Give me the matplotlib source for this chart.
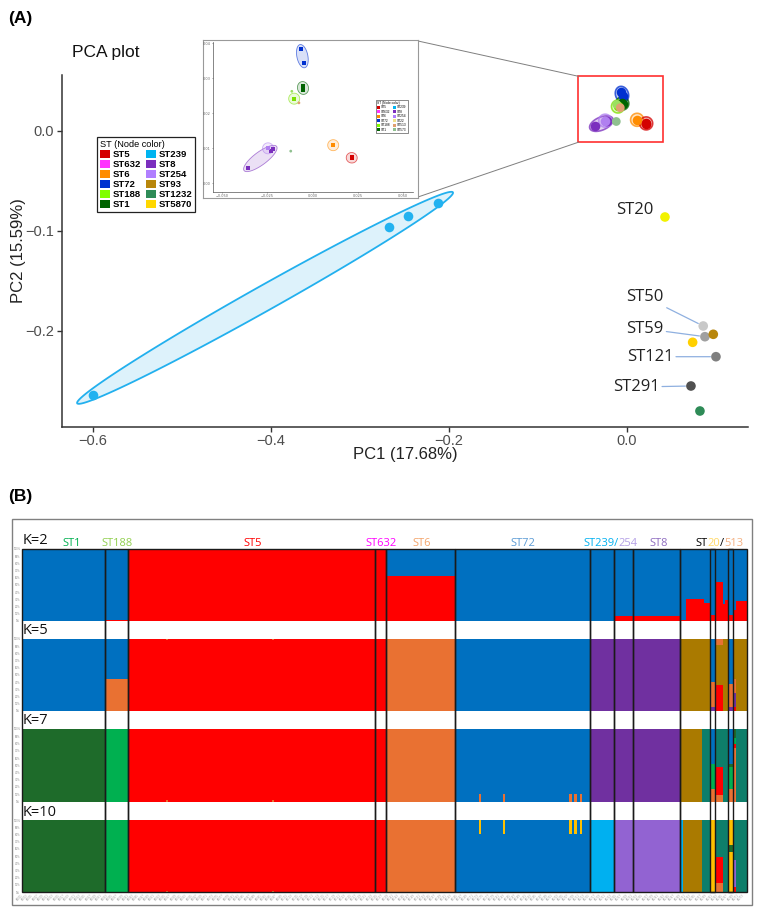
import numpy as np
import matplotlib
matplotlib.use("Agg")
import matplotlib.pyplot as plt
from matplotlib.patches import Rectangle, Polygon, Patch
from matplotlib.lines import Line2D

# ======================= DATA =======================
# ---- Panel A: PCA ----
st239_x = [-0.600, -0.267, -0.246, -0.212]
st239_y = [-0.264, -0.0963, -0.0853, -0.0723]

# main cluster (also shown in the inset)
clu_names  = ["ST72", "ST1", "ST188", "ST8", "ST254", "ST6", "ST5"]
clu_colors = ["#0030D0", "#006400", "#7CE000", "#7B2FBE", "#B080F0", "#FF8C00", "#D40000"]
clu_x = [[-0.0064, -0.0048], [-0.0055, -0.0050], [-0.0101], [-0.0230, -0.0220, -0.0355],
         [-0.0245], [0.0114], [0.0215, 0.0217]]
clu_y = [[0.0384, 0.0343], [0.0278, 0.0267], [0.0242], [0.0093, 0.0097, 0.0045],
         [0.0100], [0.0109], [0.0071, 0.0075]]
# single small points without ellipse
small_names  = ["ST188b", "ST513", "ST573"]
small_colors = ["#9BE060", "#E0A070", "#8FC08F"]
small_x = [-0.0114, -0.0075, -0.0120]
small_y = [0.0263, 0.0230, 0.0092]

# outlying STs
out_labels = ["ST20", "ST50", "ST59", "", "", "ST121", "ST291", ""]
out_colors = ["#F2F200", "#C8C8C8", "#A0A0A0", "#B8860B", "#FFD000", "#7F7F7F", "#505050", "#2E8B57"]
out_x = [0.0427, 0.0857, 0.0876, 0.0970, 0.0738, 0.1000, 0.0719, 0.0820]
out_y = [-0.0863, -0.1953, -0.2060, -0.2036, -0.2116, -0.2260, -0.2553, -0.2803]

leg_labels = ["ST5", "ST632", "ST6", "ST72", "ST188", "ST1",
              "ST239", "ST8", "ST254", "ST93", "ST1232", "ST5870"]
leg_colors = ["#D40000", "#FF33FF", "#FF8C00", "#0030D0", "#80FF00", "#006400",
              "#00B4F0", "#7B2FBE", "#B07FFF", "#B8860B", "#2E8B57", "#FFD700"]
inset_leg_labels = ["ST5", "ST632", "ST6", "ST72", "ST188", "ST1",
                    "ST239", "ST8", "ST254", "ST22", "ST513", "ST573"]
inset_leg_colors = ["#D40000", "#FF33FF", "#FF8C00", "#0030D0", "#80FF00", "#006400",
                    "#00B4F0", "#7B2FBE", "#B07FFF", "#F0E08A", "#E0A070", "#8FC08F"]

x_ticks = [-0.6, -0.4, -0.2, 0.0]
y_ticks = [-0.2, -0.1, 0.0]
ins_x_ticks = [-0.050, -0.025, 0.000, 0.025, 0.050]
ins_y_ticks = [0.00, 0.01, 0.02, 0.03, 0.04]

# ---- Panel B: STRUCTURE ----
groups      = ["ST1", "ST188", "ST5", "ST632", "ST6", "ST72", "ST239", "ST254", "ST8", "Other"]
group_sizes = [31, 9, 93, 4, 26, 51, 9, 7, 18, 25]
sub_boxes   = [("Other", 11, 2), ("Other", 18, 2)]   # ST20 and ST513 isolates

cl_colors = {"blue": "#0070C0", "red": "#FF0000", "orange": "#E97132", "purple": "#7030A0",
             "brown": "#AA7A00", "dkgreen": "#1E6B2A", "green": "#00B050", "teal": "#0E7E6A",
             "cyan": "#00B0F0", "lavender": "#9263D2", "yellow": "#FFC000"}

K2_groups = {"ST1": [("blue", 1.0)], "ST188": [("red", 0.01), ("blue", 0.99)],
             "ST5": [("red", 1.0)], "ST632": [("red", 1.0)],
             "ST6": [("red", 0.62), ("blue", 0.38)], "ST72": [("blue", 1.0)],
             "ST239": [("blue", 1.0)], "ST254": [("red", 0.07), ("blue", 0.93)],
             "ST8": [("red", 0.07), ("blue", 0.93)]}
K2_other_red = [0.02, 0.02, 0.30, 0.30, 0.30, 0.30, 0.30, 0.30, 0.30, 0.25, 0.25, 0.09, 0.09,
                0.54, 0.54, 0.54, 0.23, 0.29, 0.09, 0.09, 0.15, 0.28, 0.28, 0.28, 0.28]

K5_groups = {"ST1": [("blue", 1.0)], "ST188": [("orange", 0.45), ("blue", 0.55)],
             "ST5": [("red", 1.0)], "ST632": [("red", 1.0)], "ST6": [("orange", 1.0)],
             "ST72": [("blue", 1.0)], "ST239": [("purple", 1.0)],
             "ST254": [("purple", 1.0)], "ST8": [("purple", 1.0)]}
K5_other = ([[("brown", 1.0)]] * 11
            + [[("purple", 0.06), ("orange", 0.34), ("blue", 0.60)]] * 2
            + [[("red", 0.36), ("brown", 0.56), ("orange", 0.08)]] * 3
            + [[("brown", 1.0)]] * 2
            + [[("purple", 0.06), ("orange", 0.32), ("blue", 0.62)]] * 2
            + [[("red", 0.06), ("purple", 0.19), ("orange", 0.20), ("brown", 0.55)]]
            + [[("brown", 1.0)]] * 4)

K7_groups = {"ST1": [("dkgreen", 1.0)], "ST188": [("green", 1.0)],
             "ST5": [("red", 1.0)], "ST632": [("red", 1.0)], "ST6": [("orange", 1.0)],
             "ST72": [("blue", 1.0)], "ST239": [("purple", 1.0)],
             "ST254": [("purple", 1.0)], "ST8": [("purple", 1.0)]}
K7_other = ([[("brown", 1.0)]] * 8
            + [[("teal", 1.0)]] * 3
            + [[("orange", 0.17), ("green", 0.35), ("blue", 0.48)]] * 2
            + [[("orange", 0.09), ("red", 0.39), ("teal", 0.52)]] * 3
            + [[("teal", 1.0)]] * 2
            + [[("orange", 0.17), ("green", 0.30), ("dkgreen", 0.05), ("blue", 0.48)]] * 2
            + [[("orange", 0.74), ("red", 0.06), ("green", 0.08), ("dkgreen", 0.12)]]
            + [[("teal", 1.0)]] * 4)

K10_groups = {"ST1": [("dkgreen", 1.0)], "ST188": [("green", 1.0)],
              "ST5": [("red", 1.0)], "ST632": [("red", 1.0)], "ST6": [("orange", 1.0)],
              "ST72": [("blue", 1.0)], "ST239": [("cyan", 1.0)],
              "ST254": [("lavender", 1.0)], "ST8": [("lavender", 1.0)]}
K10_other = ([[("cyan", 1.0)]]
             + [[("brown", 1.0)]] * 7
             + [[("teal", 1.0)]] * 3
             + [[("yellow", 1.0)]] * 2
             + [[("orange", 0.12), ("red", 0.37), ("teal", 0.51)]] * 3
             + [[("teal", 1.0)]] * 2
             + [[("yellow", 0.55), ("dkgreen", 0.10), ("yellow", 0.35)]] * 2
             + [[("red", 0.07), ("lavender", 0.38), ("teal", 0.55)]]
             + [[("teal", 1.0)]] * 4)

# individual admixed samples: (group, index in group) -> stack
K5_special  = {("ST5", 14): [("red", 0.98), ("orange", 0.02)],
               ("ST5", 54): [("red", 0.98), ("orange", 0.02)]}
K7_special  = {("ST5", 14): [("orange", 0.02), ("red", 0.98)],
               ("ST5", 54): [("orange", 0.02), ("red", 0.98)]}
K10_special = {("ST5", 14): [("orange", 0.02), ("red", 0.98)],
               ("ST5", 54): [("orange", 0.02), ("red", 0.98)]}
st72_admixed = [9, 18, 43, 45, 47]
for i in st72_admixed:
    K7_special[("ST72", i)] = [("orange", 0.10), ("blue", 0.90)]
    K10_special[("ST72", i)] = [("blue", 0.81), ("yellow", 0.19)]

header_single = [("ST1", "#00B050", 71.7), ("ST188", "#92D050", 116.7), ("ST5", "#FF0000", 252.7),
                 ("ST632", "#FF00FF", 381.0), ("ST6", "#F4A46A", 421.7), ("ST72", "#5B9BD5", 523.3),
                 ("ST8", "#8E6CC0", 658.3)]
header_multi = [(583.0, [("ST239/", "#00B0F0"), ("254", "#B4A0E6")]),
                (695.0, [("ST", "#000000"), ("20", "#FFD966"), ("/", "#000000"), ("513", "#F4B183")])]

# ======================= FIGURE =======================
W, H = 759, 910
fig = plt.figure(figsize=(W / 100, H / 100), dpi=100)
fig.patch.set_facecolor("white")


def frect(l, t, r, b):
    return [l / W, 1 - b / H, (r - l) / W, (b - t) / H]


def fx(x):
    return x / W


def fy(y):
    return 1 - y / H


def fmt(v, n):
    return f"{v:.{n}f}".replace("-", "\u2212")


def ellipse_xy(ax, xs, ys, pad_px, minor_px, n=120):
    P = ax.transData.transform(np.column_stack([xs, ys]))
    c = P.mean(axis=0)
    d = P - c
    if len(P) > 1 and np.abs(d).max() > 0.5:
        _, _, vt = np.linalg.svd(d, full_matrices=False)
        u = vt[0]
        proj = d @ u
        a = (proj.max() - proj.min()) / 2 + pad_px
        c = c + u * (proj.max() + proj.min()) / 2
    else:
        u = np.array([1.0, 0.0])
        a = minor_px
    v = np.array([-u[1], u[0]])
    t = np.linspace(0, 2 * np.pi, n)
    pts = c + np.outer(a * np.cos(t), u) + np.outer(minor_px * np.sin(t), v)
    return ax.transData.inverted().transform(pts)


SANS = ["Liberation Sans", "DejaVu Sans"]
LAB = ["Open Sans", "DejaVu Sans"]

# ---------------- Panel A ----------------
fig.text(fx(8), fy(18), "(A)", fontsize=12.5, fontweight="bold", family=SANS, va="center", ha="left")
fig.text(fx(72), fy(52), "PCA plot", fontsize=12.5, family=SANS, va="center", ha="left", color="#111111")

ax = fig.add_axes(frect(62, 75, 748, 427))
ax.set_xlim(-0.6348, 0.136)
ax.set_ylim(-0.2963, 0.0557)
for s in ["top", "right"]:
    ax.spines[s].set_visible(False)
for s in ["left", "bottom"]:
    ax.spines[s].set_color("#333333")
    ax.spines[s].set_linewidth(1.1)
ax.set_xticks(x_ticks)
ax.set_xticklabels([fmt(v, 1) for v in x_ticks])
ax.set_yticks(y_ticks)
ax.set_yticklabels([fmt(v, 1) for v in y_ticks])
ax.tick_params(colors="#333333", labelcolor="#4D4D4D", labelsize=10.5, length=3.5, width=1.0)
ax.tick_params(axis="x", pad=1.5)
ax.tick_params(axis="y", pad=2.5)
for lab in ax.get_xticklabels() + ax.get_yticklabels():
    lab.set_family(SANS)
ax.set_xlabel("PC1 (17.68%)", fontsize=12, family=SANS, color="#222222")
ax.set_ylabel("PC2 (15.59%)", fontsize=12, family=SANS, color="#222222")
ax.xaxis.set_label_coords((405 - 62) / 686, (427 - 447) / 352)
ax.yaxis.set_label_coords((26 - 62) / 686, 0.5)

# big ST239 ellipse
e = ellipse_xy(ax, st239_x, st239_y, 18, 12.5)
ax.add_patch(Polygon(e, closed=True, facecolor="#DDF2FB", edgecolor="#22B0EE", lw=1.3, zorder=2))
ax.scatter(st239_x, st239_y, s=48, color="#22B2F0", zorder=3, linewidths=0)

# main cluster
for name, col, xs, ys in zip(clu_names, clu_colors, clu_x, clu_y):
    e = ellipse_xy(ax, xs, ys, 6, 6.5)
    ax.add_patch(Polygon(e, closed=True, facecolor=col, alpha=0.22, edgecolor="none", zorder=2))
    ax.add_patch(Polygon(e, closed=True, fill=False, edgecolor=col, alpha=0.75, lw=1.2, zorder=2))
    ax.scatter(xs, ys, s=48, color=col, zorder=3, linewidths=0)
ax.scatter(small_x, small_y, s=40, color=small_colors, zorder=3, linewidths=0)

# outliers
ax.scatter(out_x, out_y, s=48, color=out_colors, zorder=3, linewidths=0)
label_offsets = {"ST20": (-30, 7, False), "ST50": (-58, 29, True), "ST59": (-60, 8, True),
                 "ST121": (-66, 0, True), "ST291": (-55, -1, True)}
for lab, x, y in zip(out_labels, out_x, out_y):
    if not lab:
        continue
    dx, dy, line = label_offsets[lab]
    kw = dict(arrowprops=dict(arrowstyle="-", color="#8FB0E0", lw=0.9, shrinkA=0, shrinkB=4)) if line else {}
    ax.annotate(lab, xy=(x, y), xytext=(dx, dy), textcoords="offset pixels", ha="center",
                va="center", fontsize=12, family=LAB, color="#222222", **kw)

# zoom box
allx = [v for xs in clu_x for v in xs]
ally = [v for ys in clu_y for v in ys]
bx0, bx1 = min(allx) - 0.019, max(allx) + 0.019
by0, by1 = min(ally) - 0.016, max(ally) + 0.016
ax.add_patch(Rectangle((bx0, by0), bx1 - bx0, by1 - by0, fill=False, edgecolor="#FF3030", lw=1.2, zorder=4))

# main legend
handles = [Patch(facecolor=c, edgecolor="none") for c in leg_colors]
leg = fig.legend(handles, leg_labels, ncol=2, loc="upper left",
                 bbox_to_anchor=(fx(97), fy(137)), bbox_transform=fig.transFigure,
                 title="ST (Node color)", prop={"family": SANS, "size": 6.8, "weight": "bold"},
                 title_fontproperties={"family": SANS, "size": 6.6},
                 frameon=True, fancybox=False, edgecolor="#222222", framealpha=1,
                 handlelength=1.05, handleheight=0.9, handletextpad=0.3, labelspacing=0.08,
                 columnspacing=0.45, borderpad=0.35, borderaxespad=0)
leg.get_frame().set_linewidth(0.9)
leg._legend_box.align = "left"

# inset frame
fr = fig.add_axes(frect(203, 40, 418, 198))
fr.set_xticks([])
fr.set_yticks([])
for s in fr.spines.values():
    s.set_color("#999999")
    s.set_linewidth(0.8)
fr.set_zorder(5)

ins = fig.add_axes(frect(212.7, 42, 412.7, 191.7))
ins.set_zorder(6)
ins.set_xlim(-0.055, 0.0552)
ins.set_ylim(-0.0024, 0.0404)
for s in ["top", "right"]:
    ins.spines[s].set_visible(False)
for s in ["left", "bottom"]:
    ins.spines[s].set_color("#555555")
    ins.spines[s].set_linewidth(0.5)
ins.set_xticks(ins_x_ticks)
ins.set_xticklabels([fmt(v, 3) for v in ins_x_ticks])
ins.set_yticks(ins_y_ticks)
ins.set_yticklabels([fmt(v, 2) for v in ins_y_ticks])
ins.tick_params(labelsize=2.5, labelcolor="#666666", colors="#555555", length=1, width=0.4, pad=0.8)
for name, col, xs, ys in zip(clu_names, clu_colors, clu_x, clu_y):
    if name == "ST8":
        e = ellipse_xy(ins, xs, ys, 5, 6.5)
    else:
        e = ellipse_xy(ins, xs, ys, 4.5, 5.5)
    ins.add_patch(Polygon(e, closed=True, facecolor=col, alpha=0.15, edgecolor="none", zorder=2))
    ins.add_patch(Polygon(e, closed=True, fill=False, edgecolor=col, alpha=0.6, lw=0.6, zorder=2))
    ins.scatter(xs, ys, s=5, color=col, zorder=3, linewidths=0, marker="s")
ins.scatter(small_x, small_y, s=4, color=small_colors, zorder=3, linewidths=0)
ih = [Patch(facecolor=c, edgecolor="none") for c in inset_leg_colors]
il = ins.legend(ih, inset_leg_labels, ncol=2, loc="upper left",
                bbox_to_anchor=(fx(376), fy(100)), bbox_transform=fig.transFigure,
                title="ST (Node color)", prop={"family": SANS, "size": 2.3},
                title_fontproperties={"family": SANS, "size": 2.3},
                frameon=True, fancybox=False, edgecolor="#333333", framealpha=1,
                handlelength=1.0, handleheight=0.9, handletextpad=0.3, labelspacing=0.15,
                columnspacing=0.8, borderpad=0.3, borderaxespad=0)
il.get_frame().set_linewidth(0.4)
il._legend_box.align = "left"

# connector lines
fig.canvas.draw()
inv = fig.transFigure.inverted()
c_top = inv.transform(ax.transData.transform((bx0, by1)))
c_bot = inv.transform(ax.transData.transform((bx0, by0)))
fig.add_artist(Line2D([fx(418), c_top[0]], [fy(41), c_top[1]], color="#7F7F7F", lw=0.7, zorder=4))
fig.add_artist(Line2D([fx(418), c_bot[0]], [fy(197), c_bot[1]], color="#7F7F7F", lw=0.7, zorder=4))

# ---------------- Panel B ----------------
fig.text(fx(8), fy(497), "(B)", fontsize=12.5, fontweight="bold", family=SANS, va="center", ha="left")
fig.add_artist(Rectangle((fx(12), fy(905)), fx(740), (905 - 519) / H, transform=fig.transFigure,
                         fill=False, edgecolor="#808080", lw=1.0))

N = sum(group_sizes)
starts = np.concatenate([[0], np.cumsum(group_sizes)[:-1]])
gstart = dict(zip(groups, starts))


def build(gcomp, other, special):
    samples = []
    for g, n in zip(groups, group_sizes):
        if g == "Other":
            samples += list(other)
        else:
            samples += [gcomp[g]] * n
    for (g, i), st in special.items():
        samples[gstart[g] + i] = st
    return samples


K2_other = [[("red", r), ("blue", 1 - r)] for r in K2_other_red]
rows = [("K=2", build(K2_groups, K2_other, {}), 549, 621, 540),
        ("K=5", build(K5_groups, K5_other, K5_special), 639, 711, 630),
        ("K=7", build(K7_groups, K7_other, K7_special), 729, 801.5, 721),
        ("K=10", build(K10_groups, K10_other, K10_special), 820, 892, 812)]

pct_ticks = np.linspace(0, 1, 11)
for ri, (klab, samples, top, bot, ly) in enumerate(rows):
    axr = fig.add_axes(frect(22.3, top, 746.7, bot))
    axr.set_xlim(0, N)
    axr.set_ylim(0, 1)
    for s in axr.spines.values():
        s.set_visible(False)
    for i, stack in enumerate(samples):
        b = 0.0
        for cl, f in stack:
            axr.bar(i, f, bottom=b, width=1.0, align="edge", color=cl_colors[cl],
                    linewidth=0, antialiased=False)
            b += f
    axr.set_yticks(pct_ticks)
    axr.set_yticklabels([f"{int(round(v * 100))}%" for v in pct_ticks])
    axr.tick_params(axis="y", labelsize=1.8, labelcolor="#888888", length=0, pad=1.5)
    if ri == len(rows) - 1:
        xt = np.arange(0, N, 2) + 0.5
        axr.set_xticks(xt)
        axr.set_xticklabels([f"KP{int(v) + 1:03d}" for v in xt], rotation=45, ha="right")
        axr.tick_params(axis="x", labelsize=1.8, labelcolor="#999999", length=0, pad=1)
    else:
        axr.set_xticks([])
    fig.text(fx(23), fy(ly), klab, fontsize=10.5, family=LAB, va="center", ha="left", color="#111111")

ov = fig.add_axes(frect(22.3, 549, 746.7, 892))
ov.set_xlim(0, N)
ov.set_ylim(0, 1)
ov.axis("off")
ov.patch.set_alpha(0)
for g, n in zip(groups, group_sizes):
    ov.add_patch(Rectangle((gstart[g], 0), n, 1, fill=False, edgecolor="#1A1A1A", lw=1.0, clip_on=False))
for g, i, n in sub_boxes:
    ov.add_patch(Rectangle((gstart[g] + i, 0), n, 1, fill=False, edgecolor="#1A1A1A", lw=1.0, clip_on=False))

for txt, col, xc in header_single:
    fig.text(fx(xc), fy(544), txt, color=col, fontsize=8, family=LAB, ha="center", va="center")
renderer = fig.canvas.get_renderer()
for x0, pieces in header_multi:
    x = x0
    for s, c in pieces:
        t = fig.text(fx(x), fy(544), s, color=c, fontsize=8, family=LAB, ha="left", va="center")
        x += t.get_window_extent(renderer).width

fig.savefig("out.png", dpi=100, facecolor="white")
